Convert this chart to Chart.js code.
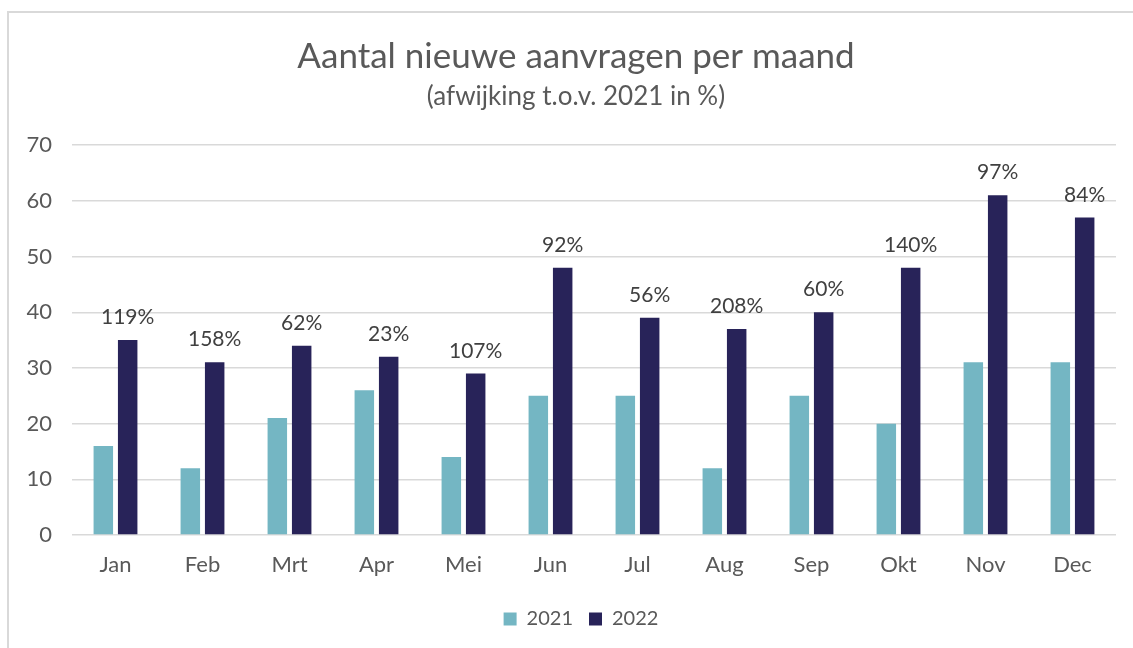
<!DOCTYPE html>
<html>
<head>
<meta charset="utf-8">
<title>Aantal nieuwe aanvragen per maand</title>
<script src="https://cdn.jsdelivr.net/npm/chart.js@4"></script>
<style>
  body { margin: 0; background: #fff; }
  #wrap { width: 1133px; height: 648px; }
</style>
</head>
<body>
<div id="wrap"><canvas id="barChart" width="1133" height="648"></canvas></div>
<script>
const months = ['Jan', 'Feb', 'Mrt', 'Apr', 'Mei', 'Jun', 'Jul', 'Aug', 'Sep', 'Okt', 'Nov', 'Dec'];
const values2021 = [16, 12, 21, 26, 14, 25, 25, 12, 25, 20, 31, 31];
const values2022 = [35, 31, 34, 32, 29, 48, 39, 37, 40, 48, 61, 57];
const deviation = [119, 158, 62, 23, 107, 92, 56, 208, 60, 140, 97, 84];

const fontName = 'Lato';
const textGrey = '#595959';

// grey frame round the chart, like the Excel chart area
const framePlugin = {
  id: 'frame',
  beforeDraw(chart) {
    const ctx = chart.ctx;
    ctx.save();
    ctx.strokeStyle = '#d9d9d9';
    ctx.lineWidth = 2;
    ctx.strokeRect(8, 12, 3000, 3000);
    ctx.restore();
  }
};

// title, subtitle and legend sit a bit right of the canvas centre in the original
const boxShift = {
  id: 'boxShift',
  afterLayout(chart) {
    chart.boxes.forEach(box => {
      let dx = 0;
      if (box === chart.legend) dx = 23;
      else if (box.options && box.options.text && box.position === 'top') dx = 18;
      box.left += dx;
      box.right += dx;
    });
  }
};

// percentage labels above the 2022 bars
const pctLabels = {
  id: 'pctLabels',
  afterDatasetsDraw(chart) {
    const ctx = chart.ctx;
    const meta = chart.getDatasetMeta(1);
    ctx.save();
    ctx.font = '21px ' + fontName;
    ctx.fillStyle = '#404040';
    ctx.textAlign = 'center';
    ctx.textBaseline = 'alphabetic';
    meta.data.forEach((bar, i) => {
      ctx.fillText(deviation[i] + '%', bar.x, bar.y - 16);
    });
    ctx.restore();
  }
};

const barChart = document.getElementById('barChart');

new Chart(barChart, {
  type: 'bar',
  data: {
    labels: months,
    datasets: [{
      label: '2021',
      data: values2021,
      backgroundColor: '#74b6c3',
      categoryPercentage: 0.56,
      barPercentage: 0.8
    }, {
      label: '2022',
      data: values2022,
      backgroundColor: '#282359',
      categoryPercentage: 0.56,
      barPercentage: 0.8
    }]
  },
  options: {
    responsive: false,
    animation: false,
    devicePixelRatio: 1,
    layout: {
      padding: { left: 0, right: 17, top: 0, bottom: 9 }
    },
    plugins: {
      title: {
        display: true,
        text: 'Aantal nieuwe aanvragen per maand',
        color: textGrey,
        font: { family: fontName, size: 35, weight: 'normal' },
        padding: { top: 36, bottom: 3 }
      },
      subtitle: {
        display: true,
        text: '(afwijking t.o.v. 2021 in %)',
        color: textGrey,
        font: { family: fontName, size: 26, weight: 'normal' },
        padding: { top: 0, bottom: 33 }
      },
      legend: {
        position: 'bottom',
        labels: {
          color: textGrey,
          font: { family: fontName, size: 20 },
          boxWidth: 13,
          boxHeight: 13,
          padding: 16
        }
      },
      tooltip: { enabled: false }
    },
    scales: {
      x: {
        grid: { display: false, drawTicks: false },
        border: { display: false },
        ticks: {
          color: textGrey,
          font: { family: fontName, size: 22 },
          padding: 17
        },
        afterFit(scale) { scale.height = 58; }
      },
      y: {
        min: 0,
        max: 70,
        beginAtZero: true,
        grid: { color: '#d9d9d9', lineWidth: 1.5, drawTicks: false },
        border: { display: false },
        ticks: {
          stepSize: 10,
          color: textGrey,
          font: { family: fontName, size: 22 },
          padding: 20
        },
        afterFit(scale) { scale.width = 72; }
      }
    }
  },
  plugins: [framePlugin, boxShift, pctLabels]
});
</script>
</body>
</html>
